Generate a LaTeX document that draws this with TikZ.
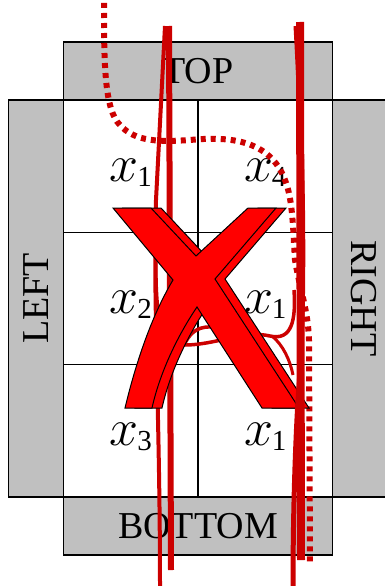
\documentclass[tikz,border=0pt]{standalone}
\usepackage{fix-cm}
\usepackage{fontspec}
\setmainfont{Liberation Serif}
\usetikzlibrary{positioning}
\definecolor{panelgray}{RGB}{192,192,192}
\definecolor{inkred}{RGB}{204,0,0}
\definecolor{markred}{RGB}{255,0,0}
\newcommand{\cellvar}[1]{{\fontsize{52}{56}\selectfont$x$}\kern-1pt\raisebox{-5pt}{\fontsize{29}{32}\selectfont #1}}

\begin{document}
\begin{tikzpicture}[x=1pt, y=-1pt,
  side/.style={draw, line width=1.6pt, fill=panelgray, outer sep=0pt, inner sep=0pt, font=\fontsize{38}{40}\selectfont},
  cell/.style={draw, line width=1.6pt, fill=white, outer sep=0pt, inner sep=0pt, minimum width=134.5pt, minimum height=132.3pt, text height=35pt, text depth=5pt},
  ink/.style={draw=inkred, line width=#1},
  ink/.default=4pt,
  dots/.style={draw=inkred, line width=6pt, dash pattern=on 5pt off 5pt},
  cross/.style={fill=markred, draw=black, line width=1pt, line join=miter},
  node distance=0pt,
]
\useasboundingbox (0,0) rectangle (385,586);

% === GRID ===
\node[cell] (c11) at (130.75,166.2) {\cellvar{1}};
\node[cell, right=of c11] (c12) {\cellvar{4}};
\node[cell, below=of c11] (c21) {\cellvar{2}};
\node[cell, right=of c21] (c22) {\cellvar{1}};
\node[cell, below=of c21] (c31) {\cellvar{3}};
\node[cell, right=of c31] (c32) {\cellvar{1}};

% === SIDES ===
\node[side, minimum width=269pt, minimum height=58pt, anchor=south west] (top) at (c11.north west) {TOP};
\node[side, minimum width=269pt, minimum height=58pt, anchor=north west] (bottom) at (c31.south west) {BOTTOM};
\node[side, rotate=90, minimum width=397pt, minimum height=55pt, anchor=south] (left) at (c21.west) {LEFT};
\node[side, rotate=-90, minimum width=397pt, minimum height=62pt, anchor=south] (right) at (c22.east) {RIGHT};

% === STROKES (behind the mark) ===
\draw[dots] (104,3) .. controls (104,60) and (104,110) .. (120,125)
  .. controls (135,142) and (160,142) .. (190,140)
  .. controls (230,136) and (270,140) .. (285,180)
  .. controls (293,200) and (293,230) .. (295,260)
  .. controls (300,290) and (308,310) .. (309,340) -- (310,563);
\draw[ink=4pt] (165,26) -- (156,200) .. controls (153,300) and (160,420) .. (160,586);
\draw[ink=6pt] (169,26) -- (171,570);
\draw[ink=3.5pt] (156,250) .. controls (155,320) and (160,345) .. (185,345)
  .. controls (215,345) and (245,330) .. (270,336)
  .. controls (292,341) and (296,320) .. (294,290);
\draw[ink=3.5pt] (185,343) .. controls (192,330) and (200,326) .. (215,327);
\draw[ink=3pt] (272,336) .. controls (283,345) and (290,360) .. (293,375);

% === MARK ===
\foreach \dx in {10,0}
  \path[cross, shift={(\dx,0)}] (113,208) -- (151,208) -- (196,256) -- (248,208) -- (276,208)
    -- (215,279) -- (299,408) -- (262,408) -- (197,307)
    .. controls (178,335) and (160,372) .. (152,408) -- (125,408)
    .. controls (136,362) and (152,315) .. (173,280) -- cycle;

% === STROKES (in front) ===
\draw[ink=8pt] (300,22) -- (301,560);
\draw[ink=5pt] (296,26) .. controls (303,150) and (306,300) .. (298,400)
  .. controls (294,470) and (293,540) .. (293,586);

\end{tikzpicture}
\end{document}
